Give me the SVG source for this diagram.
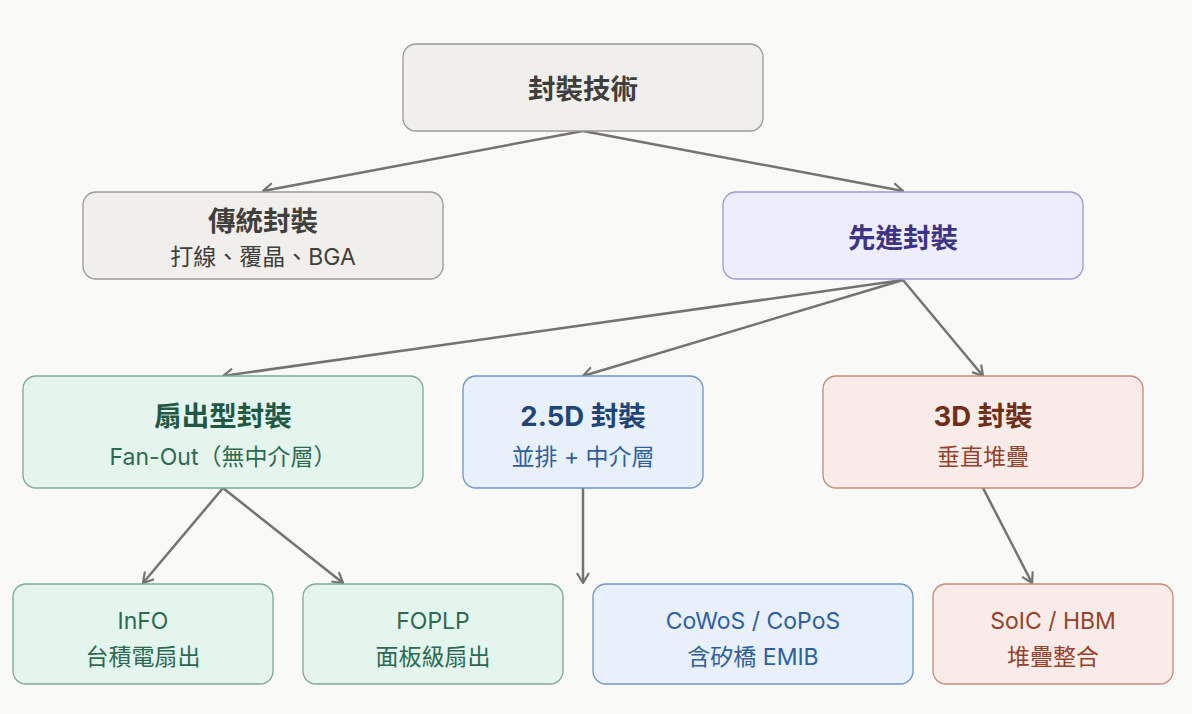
<svg xmlns="http://www.w3.org/2000/svg" width="1192" height="714" viewBox="0 0 1192 714">
<style>
text{font-family:Inter,"Noto Sans CJK TC",sans-serif;text-anchor:middle}
.t{font-size:27.5px;font-weight:700}
.s{font-size:23px;font-weight:400}
.gray rect{fill:#f0efeb;stroke:#9a9993;stroke-width:1.3}
.gray text{fill:#3f3f3c}
.purple rect{fill:#eeedfd;stroke:#9d98d9;stroke-width:1.3}
.purple text{fill:#3b3487}
.green rect{fill:#e4f5ee;stroke:#7ea996;stroke-width:1.3}
.green .t{fill:#1f5943}
.green .s{fill:#2c6a51}
.blue rect{fill:#e7f0fb;stroke:#6e94c9;stroke-width:1.3}
.blue .t{fill:#1f4479}
.blue .s{fill:#2e5fa3}
.red rect{fill:#f9ece8;stroke:#c48b79;stroke-width:1.3}
.red .t{fill:#6f2e18}
.red .s{fill:#97412a}
.edge{fill:none;stroke:#75736e;stroke-width:2.5;marker-end:url(#arr)}
</style>
<defs>
<marker id="arr" markerUnits="userSpaceOnUse" viewBox="0 0 12 14" refX="11" refY="7" markerWidth="12" markerHeight="14" orient="auto">
<path d="M1,1 L11,7 L1,13" fill="none" stroke="#75736e" stroke-width="2.2"/>
</marker>
</defs>
<rect width="1192" height="714" fill="#f9f9f7"/>
<g id="edges">
<path class="edge" d="M583,131 L263,191"/>
<path class="edge" d="M583,131 L903,191"/>
<path class="edge" d="M903,280 L223,376"/>
<path class="edge" d="M903,280 L583,376"/>
<path class="edge" d="M903,280 L983,376"/>
<path class="edge" d="M223,488 L143,583"/>
<path class="edge" d="M223,488 L343,583"/>
<path class="edge" d="M583,488 L583,583"/>
<path class="edge" d="M983,488 L1032,583"/>
</g>
<g id="root" class="gray">
<rect x="403" y="44" width="360" height="87" rx="13"/>
<text class="t" x="583" y="99">封裝技術</text>
</g>
<g id="traditional" class="gray">
<rect x="83" y="192" width="360" height="87" rx="13"/>
<text class="t" x="263" y="231">傳統封裝</text>
<text class="s" x="263" y="265">打線、覆晶、BGA</text>
</g>
<g id="advanced" class="purple">
<rect x="723" y="192" width="360" height="87" rx="13"/>
<text class="t" x="903" y="248">先進封裝</text>
</g>
<g id="fanout" class="green">
<rect x="23" y="376" width="400" height="112" rx="13"/>
<text class="t" x="223" y="426">扇出型封裝</text>
<text class="s" x="223" y="465">Fan-Out（無中介層）</text>
</g>
<g id="d25" class="blue">
<rect x="463" y="376" width="240" height="112" rx="13"/>
<text class="t" x="583" y="426">2.5D 封裝</text>
<text class="s" x="583" y="465">並排 + 中介層</text>
</g>
<g id="d3" class="red">
<rect x="823" y="376" width="320" height="112" rx="13"/>
<text class="t" x="983" y="426">3D 封裝</text>
<text class="s" x="983" y="465">垂直堆疊</text>
</g>
<g id="info" class="green">
<rect x="13" y="584" width="260" height="100" rx="13"/>
<text class="s" x="143" y="629">InFO</text>
<text class="s" x="143" y="665">台積電扇出</text>
</g>
<g id="foplp" class="green">
<rect x="303" y="584" width="260" height="100" rx="13"/>
<text class="s" x="433" y="629">FOPLP</text>
<text class="s" x="433" y="665">面板級扇出</text>
</g>
<g id="cowos" class="blue">
<rect x="593" y="584" width="320" height="100" rx="13"/>
<text class="s" x="753" y="629">CoWoS / CoPoS</text>
<text class="s" x="753" y="665">含矽橋 EMIB</text>
</g>
<g id="soic" class="red">
<rect x="933" y="584" width="240" height="100" rx="13"/>
<text class="s" x="1053" y="629">SoIC / HBM</text>
<text class="s" x="1053" y="665">堆疊整合</text>
</g>
</svg>
